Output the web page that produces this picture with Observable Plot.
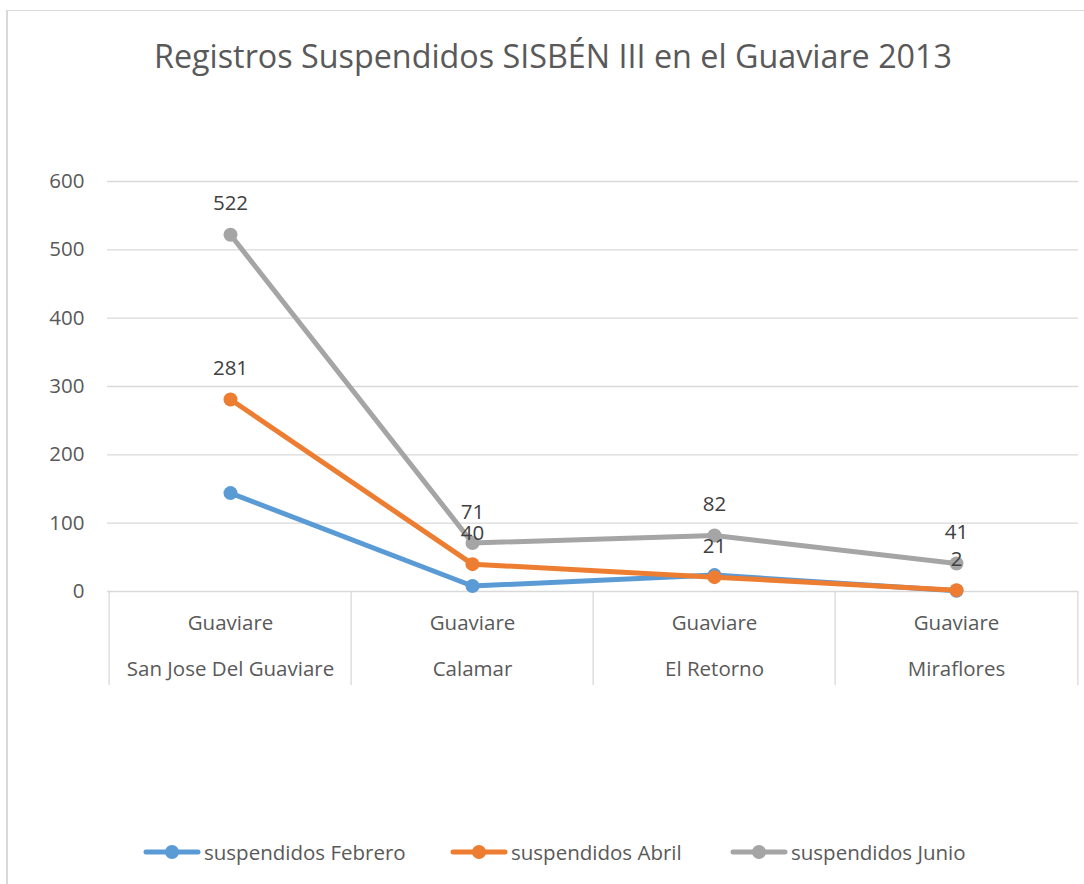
<!DOCTYPE html>
<html>
<head>
<meta charset="utf-8">
<script src="https://cdn.jsdelivr.net/npm/d3@7"></script>
<script src="https://cdn.jsdelivr.net/npm/@observablehq/plot@0.6"></script>
<style>
  html, body { margin: 0; padding: 0; background: #fff; }
  body { width: 1084px; height: 884px; position: relative; overflow: hidden; font-family: "Open Sans", sans-serif; }
  #frame { position: absolute; left: 6px; top: 10px; right: -5px; bottom: -5px; border-left: 2px solid #d9d9d9; border-top: 1px solid #d9d9d9; }
  #title { position: absolute; left: 0; width: 1106px; top: 33px; text-align: center; font-size: 32.3px; color: #595959; line-height: 44px; }
  #chart { position: absolute; left: 0; top: 0; }
  #legend { position: absolute; top: 839px; left: 0; width: 1084px; height: 26px; font-size: 20.5px; color: #595959; }
  .item { position: absolute; display: flex; align-items: center; height: 26px; }
  .item svg { margin-right: 3px; }
</style>
</head>
<body>
<div id="frame"></div>
<div id="title">Registros Suspendidos SISBÉN III en el Guaviare 2013</div>
<div id="chart"></div>
<div id="legend"></div>
<script>
const regions = ["San Jose Del Guaviare", "Calamar", "El Retorno", "Miraflores"];
const parentLabels = ["Guaviare", "Guaviare", "Guaviare", "Guaviare"];
const seriesNames = ["suspendidos Febrero", "suspendidos Abril", "suspendidos Junio"];
const febrero = [144, 8, 24, 1];
const abril = [281, 40, 21, 2];
const junio = [522, 71, 82, 41];
const yTicks = [0, 100, 200, 300, 400, 500, 600];
const colors = ["#5b9bd5", "#ed7d31", "#a5a5a5"];
const labeled = [false, true, true];

const allValues = [febrero, abril, junio];
const rows = [];
seriesNames.forEach((s, i) => {
  regions.forEach((r, j) => rows.push({series: s, region: r, value: allValues[i][j], idx: i}));
});

const W = 1084, H = 884;
const mL = 107, mR = W - 1078, mT = 181, mB = H - 591;
const bw = (W - mL - mR) / regions.length;
const yPerUnit = (591 - 181) / 600;
const sepBottom = -(685 - 591) / yPerUnit;
const FS = 20.5;

const marks = [
  Plot.ruleY(yTicks, {stroke: "#d9d9d9", strokeWidth: 1.3}),
  Plot.axisY(yTicks, {tickSize: 0, tickPadding: 23, fontSize: FS, fill: "#595959", label: null}),
  Plot.ruleX(regions, {x: d => d, dx: -bw / 2, y1: 0, y2: sepBottom, stroke: "#d9d9d9", strokeWidth: 1.3}),
  Plot.ruleX(regions.slice(-1), {x: d => d, dx: bw / 2, y1: 0, y2: sepBottom, stroke: "#d9d9d9", strokeWidth: 1.3}),
  Plot.text(regions, {x: d => d, y: 0, text: (d, i) => parentLabels[i], dy: 32, fontSize: FS, fill: "#595959"}),
  Plot.text(regions, {x: d => d, y: 0, text: d => d, dy: 78, fontSize: FS, fill: "#595959"})
];
seriesNames.forEach((s, i) => {
  const data = rows.filter(d => d.idx === i);
  marks.push(Plot.line(data, {x: "region", y: "value", stroke: colors[i], strokeWidth: 5, strokeLinecap: "round", strokeLinejoin: "round"}));
  marks.push(Plot.dot(data, {x: "region", y: "value", r: 7, fill: colors[i], stroke: null}));
});
seriesNames.forEach((s, i) => {
  if (!labeled[i]) return;
  const data = rows.filter(d => d.idx === i);
  marks.push(Plot.text(data, {x: "region", y: "value", text: d => String(d.value), dy: -31, fontSize: FS, fill: "#404040"}));
});

const chart = Plot.plot({
  width: W, height: H,
  marginLeft: mL, marginRight: mR, marginTop: mT, marginBottom: mB,
  style: {background: "transparent", fontFamily: "'Open Sans', sans-serif"},
  x: {type: "band", domain: regions, padding: 0, axis: null},
  y: {domain: [0, 600], axis: null},
  marks
});
document.getElementById("chart").appendChild(chart);

const legendPos = [143, 450, 730];
const legend = document.getElementById("legend");
seriesNames.forEach((s, i) => {
  const item = document.createElement("div");
  item.className = "item";
  item.style.left = legendPos[i] + "px";
  item.innerHTML = `<svg width="58" height="26"><line x1="3" x2="55" y1="13" y2="13" stroke="${colors[i]}" stroke-width="5" stroke-linecap="round"/><circle cx="29" cy="13" r="7" fill="${colors[i]}"/></svg><span>${s}</span>`;
  legend.appendChild(item);
});
</script>
</body>
</html>
